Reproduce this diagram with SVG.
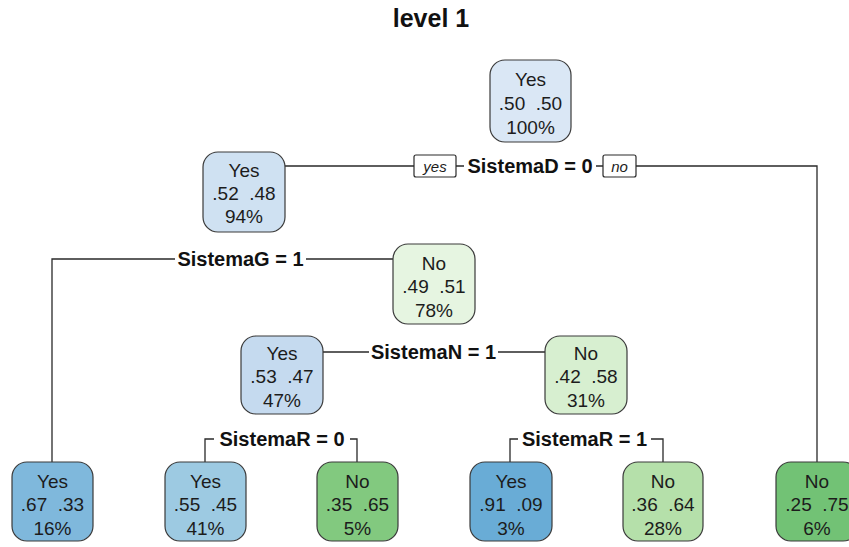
<svg xmlns="http://www.w3.org/2000/svg" width="849" height="547" viewBox="0 0 849 547">
  <style>
    text { font-family: "Liberation Sans", Arial, sans-serif; fill: #1c1c1c; }
    .title { font-size: 25px; font-weight: bold; text-anchor: middle; fill: #111; }
    .node rect { stroke: #3a3a3a; stroke-width: 1.2; }
    .node text { font-size: 19px; text-anchor: middle; }
    .split { font-size: 20px; font-weight: bold; text-anchor: middle; fill: #111; }
    .edges path { fill: none; stroke: #2a2a2a; stroke-width: 1.3; }
    .tag rect { fill: #ffffff; stroke: #2a2a2a; stroke-width: 1.2; }
    .tag text { font-size: 15px; font-style: italic; text-anchor: middle; }
  </style>

  <rect width="849" height="547" fill="#ffffff"/>
  <text class="title" x="431" y="27">level 1</text>

  <!-- connectors -->
  <g class="edges">
    <!-- SistemaD = 0 -->
    <path d="M285 166 H414 M456 166 H464 M596 166 H603 M636 166 H817 V462"/>
    <!-- SistemaG = 1 -->
    <path d="M52 462 V259 H175 M306 259 H393"/>
    <!-- SistemaN = 1 -->
    <path d="M323 352 H369 M498 352 H545"/>
    <!-- SistemaR = 0 -->
    <path d="M205 462 V439 H214 M350 439 H357 V462"/>
    <!-- SistemaR = 1 -->
    <path d="M510 462 V439 H518 M651 439 H663 V462"/>
  </g>

  <!-- split labels -->
  <g class="labels">
    <g class="tag">
      <rect x="414" y="155" width="42" height="22" rx="2"/>
      <text x="435" y="171.5">yes</text>
      <rect x="603" y="155" width="33" height="22" rx="2"/>
      <text x="619.5" y="171.5">no</text>
    </g>
    <text class="split" x="530" y="173">SistemaD = 0</text>
    <text class="split" x="240.5" y="266">SistemaG = 1</text>
    <text class="split" x="433.5" y="359">SistemaN = 1</text>
    <text class="split" x="282" y="446">SistemaR = 0</text>
    <text class="split" x="584.5" y="446">SistemaR = 1</text>
  </g>

  <!-- nodes -->
  <g id="n1" class="node">
    <rect x="490" y="60" width="81" height="82" rx="15" fill="#dae7f5"/>
    <text x="530.5" y="86">Yes</text>
    <text x="530.5" y="110">.50&#160;&#160;.50</text>
    <text x="530.5" y="134">100%</text>
  </g>
  <g id="n2" class="node">
    <rect x="203" y="152" width="82" height="80" rx="15" fill="#cfe1f2"/>
    <text x="244" y="177">Yes</text>
    <text x="244" y="200">.52&#160;&#160;.48</text>
    <text x="244" y="223">94%</text>
  </g>
  <g id="n4" class="node">
    <rect x="12" y="462" width="81" height="79" rx="15" fill="#7fb8dc"/>
    <text x="52.5" y="487.5">Yes</text>
    <text x="52.5" y="511">.67&#160;&#160;.33</text>
    <text x="52.5" y="534.5">16%</text>
  </g>
  <g id="n5" class="node">
    <rect x="393" y="244" width="82" height="80" rx="15" fill="#e6f5e1"/>
    <text x="434" y="269.5">No</text>
    <text x="434" y="293">.49&#160;&#160;.51</text>
    <text x="434" y="316.5">78%</text>
  </g>
  <g id="n10" class="node">
    <rect x="241" y="336" width="82" height="78" rx="15" fill="#c5daef"/>
    <text x="282" y="360">Yes</text>
    <text x="282" y="383">.53&#160;&#160;.47</text>
    <text x="282" y="406.5">47%</text>
  </g>
  <g id="n11" class="node">
    <rect x="545" y="336" width="82" height="78" rx="15" fill="#d7efd0"/>
    <text x="586" y="360">No</text>
    <text x="586" y="383">.42&#160;&#160;.58</text>
    <text x="586" y="406.5">31%</text>
  </g>
  <g id="n20" class="node">
    <rect x="165" y="462" width="81" height="79" rx="15" fill="#9dcae2"/>
    <text x="205.5" y="487.5">Yes</text>
    <text x="205.5" y="511">.55&#160;&#160;.45</text>
    <text x="205.5" y="534.5">41%</text>
  </g>
  <g id="n21" class="node">
    <rect x="317" y="462" width="81" height="79" rx="15" fill="#82c97f"/>
    <text x="357.5" y="487.5">No</text>
    <text x="357.5" y="511">.35&#160;&#160;.65</text>
    <text x="357.5" y="534.5">5%</text>
  </g>
  <g id="n22" class="node">
    <rect x="470" y="462" width="82" height="79" rx="15" fill="#69acd6"/>
    <text x="511" y="487.5">Yes</text>
    <text x="511" y="511">.91&#160;&#160;.09</text>
    <text x="511" y="534.5">3%</text>
  </g>
  <g id="n23" class="node">
    <rect x="623" y="462" width="80" height="79" rx="15" fill="#b5e0aa"/>
    <text x="663" y="487.5">No</text>
    <text x="663" y="511">.36&#160;&#160;.64</text>
    <text x="663" y="534.5">28%</text>
  </g>
  <g id="n3" class="node">
    <rect x="776" y="462" width="82" height="79" rx="15" fill="#72c275"/>
    <text x="817" y="487.5">No</text>
    <text x="817" y="511">.25&#160;&#160;.75</text>
    <text x="817" y="534.5">6%</text>
  </g>
</svg>
